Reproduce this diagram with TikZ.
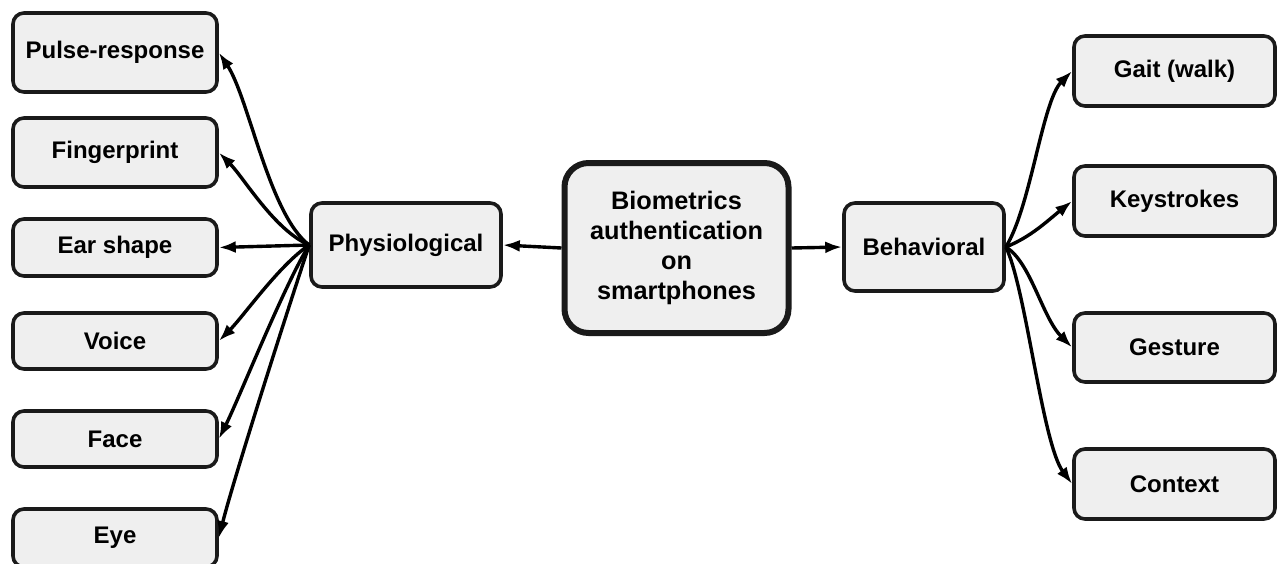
\documentclass[tikz,border=0pt]{standalone}
\usepackage{fontspec}
\setmainfont{Liberation Sans}
\usetikzlibrary{arrows.meta}
\definecolor{boxfill}{HTML}{EFEFEF}
\definecolor{edge}{HTML}{1A1A1A}
\begin{document}
\begin{tikzpicture}[x=1pt,y=-1pt,
  box/.style={draw=edge, line width=3.6pt, rounded corners=11pt, fill=boxfill,
    font=\fontsize{24}{30}\selectfont\bfseries, align=center, inner sep=0pt},
  hub/.style={box, line width=6pt, rounded corners=24pt, font=\fontsize{25.3}{30}\selectfont\bfseries},
  arr/.style={draw=black, line width=3.4pt, -{Latex[length=17pt,width=12pt]}}]
\path[use as bounding box, fill=white] (0,0) rectangle (1279,563);
% centre
\node[hub, minimum width=224pt, minimum height=170pt] (bio) at (676.5,248)
  {Biometrics\\authentication\\on\\smartphones};
\node[box, minimum width=190pt, minimum height=84pt] (phys) at (406,245) {Physiological};
\node[box, minimum width=160pt, minimum height=88pt] (beh) at (924,247) {Behavioral};
% left
\node[box, minimum width=204pt, minimum height=79pt] (pulse) at (115,52.5) {Pulse-response};
\node[box, minimum width=204pt, minimum height=69pt] (finger) at (115,152.5) {Fingerprint};
\node[box, minimum width=204pt, minimum height=57pt] (ear) at (115,247.5) {Ear shape};
\node[box, minimum width=204pt, minimum height=56pt] (voice) at (115,341) {Voice};
\node[box, minimum width=204pt, minimum height=56pt] (face) at (115,439) {Face};
\node[box, minimum width=204pt, minimum height=58pt] (eye) at (115,538) {Eye};
% right
\node[box, minimum width=201pt, minimum height=70pt] (gait) at (1174.5,71) {Gait (walk)};
\node[box, minimum width=201pt, minimum height=70pt] (keys) at (1174.5,201) {Keystrokes};
\node[box, minimum width=201pt, minimum height=69pt] (gest) at (1174.5,347.5) {Gesture};
\node[box, minimum width=201pt, minimum height=70pt] (ctx) at (1174.5,484) {Context};
% main arrows
\draw[arr] (bio.west) -- (phys.east);
\draw[arr] (bio.east) -- (beh.west);
% left arrows
\draw[arr] (phys.west) .. controls +(-40,-30) and +(30,45) .. (pulse.east);
\draw[arr] (phys.west) .. controls +(-35,-15) and +(25,25) .. (finger.east);
\draw[arr] (phys.west) -- (ear.east);
\draw[arr] (phys.west) .. controls +(-30,20) and +(25,-25) .. (voice.east);
\draw[arr] (phys.west) .. controls +(-25,40) and +(20,-40) .. (face.east);
\draw[arr] (phys.west) .. controls +(-20,60) and +(15,-60) .. (eye.east);
% right arrows
\draw[arr] (beh.east) .. controls +(25,-40) and +(-30,30) .. (gait.west);
\draw[arr] (beh.east) .. controls +(25,-10) and +(-25,20) .. (keys.west);
\draw[arr] (beh.east) .. controls +(25,15) and +(-30,-30) .. (gest.west);
\draw[arr] (beh.east) .. controls +(20,40) and +(-30,-40) .. (ctx.west);
\end{tikzpicture}
\end{document}
